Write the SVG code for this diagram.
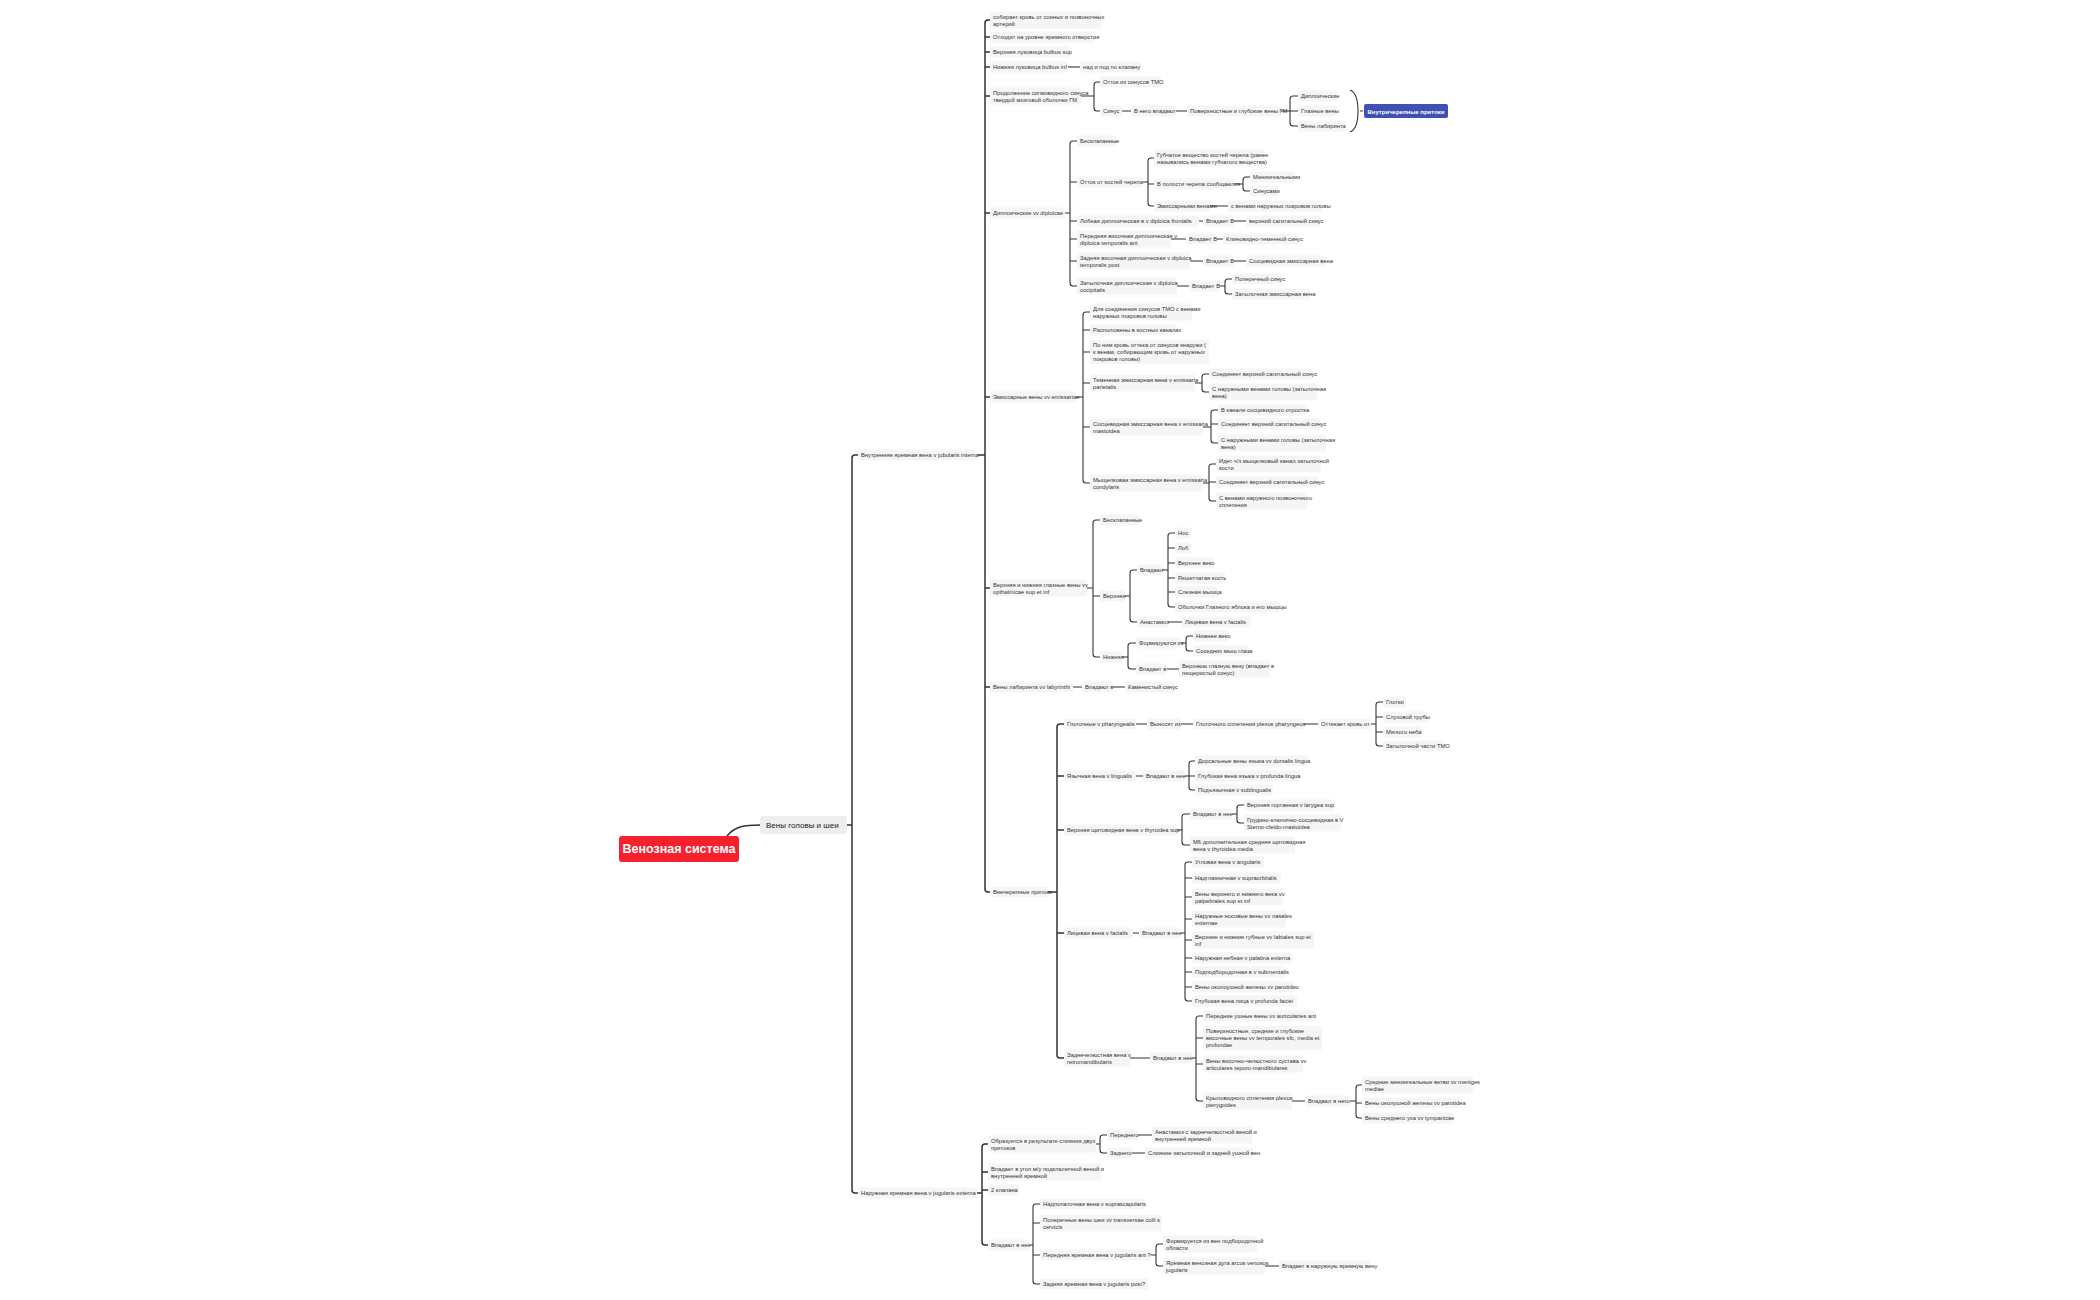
<svg xmlns="http://www.w3.org/2000/svg" width="2100" height="1300" viewBox="0 0 2100 1300">
<style>
.n rect{fill:#f5f5f5}
.n text{font-family:"Liberation Sans",Arial,sans-serif;font-size:5.8px;fill:#333}
#conn path{fill:none;stroke:#333;stroke-width:1.1}
#conn .m{stroke-width:1.5}
</style>
<rect width="2100" height="1300" fill="#fff"/>
<g id="conn">
<path class="m" d="M 727 836 C 735 826 745 825 760 825"/>
<path class="m" d="M 845 825 H 852 M 858 455 H 855 Q 852 455 852 458 V 1190 Q 852 1193 855 1193 H 858"/>
<path class="m" d="M 978 455 H 985 M 990 20 H 988 Q 985 20 985 23 V 889 Q 985 892 988 892 H 990 M 985 37 H 990 M 985 52 H 990 M 985 67 H 990 M 985 96 H 990 M 985 213 H 990 M 985 397 H 990 M 985 588 H 990 M 985 687 H 990"/>
<path d="M 1065 67 H 1080"/>
<path d="M 1078 96 H 1094 M 1100 82 H 1097 Q 1094 82 1094 85 V 108 Q 1094 111 1097 111 H 1100"/>
<path d="M 1118 111 H 1131 M 1174 111 H 1187 M 1278 111 H 1290 M 1298 96 H 1293 Q 1290 96 1290 99 V 123 Q 1290 126 1293 126 H 1298 M 1290 111 H 1298"/>
<path d="M 1350 90 Q 1358 93 1358 111 Q 1358 129 1350 132 M 1360 111 H 1363"/>
<path d="M 1062 213 H 1070 M 1077 141 H 1073 Q 1070 141 1070 144 V 283 Q 1070 286 1073 286 H 1077 M 1070 182 H 1077 M 1070 221 H 1077 M 1070 239 H 1077 M 1070 261 H 1077"/>
<path d="M 1140 182 H 1148 M 1154 158 H 1151 Q 1148 158 1148 161 V 203 Q 1148 206 1151 206 H 1154 M 1148 184 H 1154"/>
<path d="M 1232 184 H 1243 M 1250 177 H 1246 Q 1243 177 1243 180 V 188 Q 1243 191 1246 191 H 1250"/>
<path d="M 1208 206 H 1228 M 1196 221 H 1203 M 1232 221 H 1246 M 1168 239 H 1186 M 1215 239 H 1223 M 1188 261 H 1203 M 1232 261 H 1246"/>
<path d="M 1175 286 H 1189 M 1218 286 H 1225 M 1232 279 H 1228 Q 1225 279 1225 282 V 291 Q 1225 294 1228 294 H 1232"/>
<path d="M 1074 397 H 1083 M 1090 312 H 1086 Q 1083 312 1083 315 V 480 Q 1083 483 1086 483 H 1090 M 1083 330 H 1090 M 1083 352 H 1090 M 1083 383 H 1090 M 1083 427 H 1090"/>
<path d="M 1193 383 H 1202 M 1209 374 H 1205 Q 1202 374 1202 377 V 389 Q 1202 392 1205 392 H 1209"/>
<path d="M 1201 427 H 1211 M 1218 410 H 1214 Q 1211 410 1211 413 V 440 Q 1211 443 1214 443 H 1218 M 1211 424 H 1218"/>
<path d="M 1201 483 H 1209 M 1216 464 H 1212 Q 1209 464 1209 467 V 498 Q 1209 501 1212 501 H 1216 M 1209 482 H 1216"/>
<path d="M 1085 588 H 1093 M 1100 520 H 1096 Q 1093 520 1093 523 V 654 Q 1093 657 1096 657 H 1100 M 1093 596 H 1100"/>
<path d="M 1123 596 H 1130 M 1137 570 H 1133 Q 1130 570 1130 573 V 619 Q 1130 622 1133 622 H 1137"/>
<path d="M 1160 570 H 1168 M 1175 533 H 1171 Q 1168 533 1168 536 V 604 Q 1168 607 1171 607 H 1175 M 1168 548 H 1175 M 1168 563 H 1175 M 1168 578 H 1175 M 1168 592 H 1175"/>
<path d="M 1166 622 H 1182 M 1120 657 H 1128 M 1136 643 H 1131 Q 1128 643 1128 646 V 666 Q 1128 669 1131 669 H 1136"/>
<path d="M 1179 643 H 1186 M 1193 636 H 1189 Q 1186 636 1186 639 V 648 Q 1186 651 1189 651 H 1193 M 1165 669 H 1179"/>
<path d="M 1071 687 H 1082 M 1111 687 H 1125"/>
<path class="m" d="M 1046 892 H 1057 M 1064 724 H 1060 Q 1057 724 1057 727 V 1055 Q 1057 1058 1060 1058 H 1064 M 1057 776 H 1064 M 1057 830 H 1064 M 1057 933 H 1064"/>
<path d="M 1134 724 H 1147 M 1179 724 H 1193 M 1302 724 H 1318 M 1369 724 H 1376 M 1383 702 H 1379 Q 1376 702 1376 705 V 743 Q 1376 746 1379 746 H 1383 M 1376 717 H 1383 M 1376 732 H 1383"/>
<path d="M 1134 776 H 1143 M 1183 776 H 1189 M 1195 761 H 1192 Q 1189 761 1189 764 V 787 Q 1189 790 1192 790 H 1195 M 1189 776 H 1195"/>
<path d="M 1175 830 H 1182 M 1190 814 H 1185 Q 1182 814 1182 817 V 842 Q 1182 845 1185 845 H 1190 M 1230 814 H 1237 M 1244 805 H 1240 Q 1237 805 1237 808 V 820 Q 1237 823 1240 823 H 1244"/>
<path d="M 1131 933 H 1139 M 1179 933 H 1185 M 1192 862 H 1188 Q 1185 862 1185 865 V 998 Q 1185 1001 1188 1001 H 1192 M 1185 878 H 1192 M 1185 897 H 1192 M 1185 919 H 1192 M 1185 940 H 1192 M 1185 958 H 1192 M 1185 972 H 1192 M 1185 987 H 1192"/>
<path d="M 1128 1058 H 1150 M 1190 1058 H 1196 M 1203 1016 H 1199 Q 1196 1016 1196 1019 V 1098 Q 1196 1101 1199 1101 H 1203 M 1196 1038 H 1203 M 1196 1064 H 1203"/>
<path d="M 1290 1101 H 1305 M 1348 1101 H 1356 M 1362 1085 H 1359 Q 1356 1085 1356 1088 V 1115 Q 1356 1118 1359 1118 H 1362 M 1356 1103 H 1362"/>
<path class="m" d="M 975 1193 H 982 M 988 1144 H 985 Q 982 1144 982 1147 V 1242 Q 982 1245 985 1245 H 988 M 982 1172 H 988 M 982 1190 H 988"/>
<path d="M 1094 1144 H 1100 M 1107 1135 H 1103 Q 1100 1135 1100 1138 V 1150 Q 1100 1153 1103 1153 H 1107 M 1136 1135 H 1152 M 1130 1153 H 1145"/>
<path d="M 1026 1245 H 1033 M 1040 1204 H 1036 Q 1033 1204 1033 1207 V 1281 Q 1033 1284 1036 1284 H 1040 M 1033 1223 H 1040 M 1033 1255 H 1040"/>
<path d="M 1149 1255 H 1156 M 1163 1244 H 1159 Q 1156 1244 1156 1247 V 1263 Q 1156 1266 1159 1266 H 1163 M 1263 1266 H 1279"/>
</g>

<g id="root"><rect x="619" y="836" width="120" height="26" rx="3" fill="#f5222d"/><text x="679" y="853" text-anchor="middle" font-family="Liberation Sans,Arial,sans-serif" font-size="12.5" font-weight="bold" fill="#fff">Венозная система</text></g>
<g id="head" class="n"><rect x="760" y="816" width="87" height="18" rx="3" style="fill:#eeeeee"/><text x="766" y="828" style="font-size:8px;fill:#222">Вены головы и шеи</text></g>
<g id="ic-tag"><rect x="1364" y="104" width="84" height="14" rx="2" fill="#3f51b5"/><text x="1406" y="113.5" text-anchor="middle" font-family="Liberation Sans,Arial,sans-serif" font-size="6px" font-weight="bold" fill="#fff">Внутричерепные притоки</text></g>

<g id="vji" class="n"><rect x="858" y="449.5" width="119" height="11" rx="2"/><text x="861" y="457">Внутренняя яремная вена v jubularis interna</text></g>
<g id="a1" class="n"><rect x="990" y="11.5" width="111" height="17" rx="2"/><text x="993" y="18.5">собирает кровь от сонных и позвоночных</text><text x="993" y="25.5">артерий</text></g>
<g id="a2" class="n"><rect x="990" y="31.5" width="105" height="11" rx="2"/><text x="993" y="39">Отходит на уровне яремного отверстия</text></g>
<g id="a3" class="n"><rect x="990" y="46.5" width="80" height="11" rx="2"/><text x="993" y="54">Верхняя луковица bulbus sup</text></g>
<g id="a4" class="n"><rect x="990" y="61.5" width="78" height="11" rx="2"/><text x="993" y="69">Нижняя луковица bulbus inf</text></g>
<g id="a4a" class="n"><rect x="1080" y="61.5" width="61" height="11" rx="2"/><text x="1083" y="69">над и под по клапану</text></g>
<g id="a5" class="n"><rect x="990" y="87.5" width="91" height="17" rx="2"/><text x="993" y="94.5">Продолжение сигмовидного синуса</text><text x="993" y="101.5">твердой мозговой оболочки ГМ</text></g>
<g id="a5a" class="n"><rect x="1100" y="76.5" width="61" height="11" rx="2"/><text x="1103" y="84">Отток из синусов ТМО</text></g>
<g id="a5b" class="n"><rect x="1100" y="105.5" width="22" height="11" rx="2"/><text x="1103" y="113">Синус</text></g>
<g id="a5c" class="n"><rect x="1131" y="105.5" width="45" height="11" rx="2"/><text x="1134" y="113">В него впадают</text></g>
<g id="a5d" class="n"><rect x="1187" y="105.5" width="94" height="11" rx="2"/><text x="1190" y="113">Поверхностные и глубокие вены ГМ</text></g>
<g id="d1" class="n"><rect x="1298" y="90.5" width="39" height="11" rx="2"/><text x="1301" y="98">Диплоические</text></g>
<g id="d2" class="n"><rect x="1298" y="105.5" width="39" height="11" rx="2"/><text x="1301" y="113">Глазные вены</text></g>
<g id="d3" class="n"><rect x="1298" y="120.5" width="47" height="11" rx="2"/><text x="1301" y="128">Вены лабиринта</text></g>

<g id="a6" class="n"><rect x="990" y="207.5" width="75" height="11" rx="2"/><text x="993" y="215">Диплоические vv diploicae</text></g>
<g id="b1" class="n"><rect x="1077" y="135.5" width="39" height="11" rx="2"/><text x="1080" y="143">Бесклапанные</text></g>
<g id="b2" class="n"><rect x="1077" y="176.5" width="66" height="11" rx="2"/><text x="1080" y="184">Отток от костей черепа</text></g>
<g id="c1" class="n"><rect x="1154" y="149.5" width="111" height="17" rx="2"/><text x="1157" y="156.5">Губчатое вещество костей черепа (ранее</text><text x="1157" y="163.5">назывались венами губчатого вещества)</text></g>
<g id="c2" class="n"><rect x="1154" y="178.5" width="80" height="11" rx="2"/><text x="1157" y="186">В полости черепа сообщаются</text></g>
<g id="c2a" class="n"><rect x="1250" y="171.5" width="45" height="11" rx="2"/><text x="1253" y="179">Менингеальными</text></g>
<g id="c2b" class="n"><rect x="1250" y="185.5" width="28" height="11" rx="2"/><text x="1253" y="193">Синусами</text></g>
<g id="c3" class="n"><rect x="1154" y="200.5" width="56" height="11" rx="2"/><text x="1157" y="208">Эмиссарными венами</text></g>
<g id="c3a" class="n"><rect x="1228" y="200.5" width="94" height="11" rx="2"/><text x="1231" y="208">с венами наружных покровов головы</text></g>
<g id="b3" class="n"><rect x="1077" y="215.5" width="122" height="11" rx="2"/><text x="1080" y="223">Лобная диплоическая в v diploica frontalis</text></g>
<g id="b3a" class="n"><rect x="1203" y="215.5" width="31" height="11" rx="2"/><text x="1206" y="223">Впадает В</text></g>
<g id="b3b" class="n"><rect x="1246" y="215.5" width="75" height="11" rx="2"/><text x="1249" y="223">верхний сагитальный синус</text></g>
<g id="b4" class="n"><rect x="1077" y="230.5" width="94" height="17" rx="2"/><text x="1080" y="237.5">Передняя височная диплоическая v</text><text x="1080" y="244.5">diploica temporalis ant</text></g>
<g id="b4a" class="n"><rect x="1186" y="233.5" width="31" height="11" rx="2"/><text x="1189" y="241">Впадает В</text></g>
<g id="b4b" class="n"><rect x="1223" y="233.5" width="75" height="11" rx="2"/><text x="1226" y="241">Клиновидно-теменной синус</text></g>
<g id="b5" class="n"><rect x="1077" y="252.5" width="113" height="17" rx="2"/><text x="1080" y="259.5">Задняя височная диплоическая v diploica</text><text x="1080" y="266.5">temporalis post</text></g>
<g id="b5a" class="n"><rect x="1203" y="255.5" width="31" height="11" rx="2"/><text x="1206" y="263">Впадает В</text></g>
<g id="b5b" class="n"><rect x="1246" y="255.5" width="80" height="11" rx="2"/><text x="1249" y="263">Сосцевидная эмиссарная вена</text></g>
<g id="b6" class="n"><rect x="1077" y="277.5" width="100" height="17" rx="2"/><text x="1080" y="284.5">Затылочная диплоическая v diploica</text><text x="1080" y="291.5">occipitalis</text></g>
<g id="b6a" class="n"><rect x="1189" y="280.5" width="31" height="11" rx="2"/><text x="1192" y="288">Впадает В</text></g>
<g id="b6b" class="n"><rect x="1232" y="273.5" width="50" height="11" rx="2"/><text x="1235" y="281">Поперечный синус</text></g>
<g id="b6c" class="n"><rect x="1232" y="288.5" width="78" height="11" rx="2"/><text x="1235" y="296">Затылочная эмиссарная вена</text></g>

<g id="a7" class="n"><rect x="990" y="391.5" width="86" height="11" rx="2"/><text x="993" y="399">Эмиссарные вены vv emissariae</text></g>
<g id="e1" class="n"><rect x="1090" y="303.5" width="102" height="17" rx="2"/><text x="1093" y="310.5">Для соединения синусов ТМО с венами</text><text x="1093" y="317.5">наружных покровов головы</text></g>
<g id="e2" class="n"><rect x="1090" y="324.5" width="86" height="11" rx="2"/><text x="1093" y="332">Расположены в костных каналах</text></g>
<g id="e3" class="n"><rect x="1090" y="340" width="119" height="24" rx="2"/><text x="1093" y="347">По ним кровь оттека от синусов кнаружи (</text><text x="1093" y="354">к венам, собирающим кровь от наружных</text><text x="1093" y="361">покровов головы)</text></g>
<g id="e4" class="n"><rect x="1090" y="374.5" width="105" height="17" rx="2"/><text x="1093" y="381.5">Теменная эмиссарная вена v emissaria</text><text x="1093" y="388.5">parietalis</text></g>
<g id="e4a" class="n"><rect x="1209" y="368.5" width="102" height="11" rx="2"/><text x="1212" y="376">Соединяет верхний сагитальный синус</text></g>
<g id="e4b" class="n"><rect x="1209" y="383.5" width="108" height="17" rx="2"/><text x="1212" y="390.5">С наружными венами головы (затылочная</text><text x="1212" y="397.5">вена)</text></g>
<g id="e5" class="n"><rect x="1090" y="418.5" width="113" height="17" rx="2"/><text x="1093" y="425.5">Сосцевидная эмиссарная вена v emissaria</text><text x="1093" y="432.5">mastoidea</text></g>
<g id="e5a" class="n"><rect x="1218" y="404.5" width="89" height="11" rx="2"/><text x="1221" y="412">В канале сосцевидного отростка</text></g>
<g id="e5b" class="n"><rect x="1218" y="418.5" width="102" height="11" rx="2"/><text x="1221" y="426">Соединяет верхний сагитальный синус</text></g>
<g id="e5c" class="n"><rect x="1218" y="434.5" width="108" height="17" rx="2"/><text x="1221" y="441.5">С наружными венами головы (затылочная</text><text x="1221" y="448.5">вена)</text></g>
<g id="e6" class="n"><rect x="1090" y="474.5" width="113" height="17" rx="2"/><text x="1093" y="481.5">Мыщелковая эмиссарная вена v emissaria</text><text x="1093" y="488.5">condylaris</text></g>
<g id="e6a" class="n"><rect x="1216" y="455.5" width="105" height="17" rx="2"/><text x="1219" y="462.5">Идет ч/з мыщелковый канал затылочной</text><text x="1219" y="469.5">кости</text></g>
<g id="e6b" class="n"><rect x="1216" y="476.5" width="102" height="11" rx="2"/><text x="1219" y="484">Соединяет верхний сагитальный синус</text></g>
<g id="e6c" class="n"><rect x="1216" y="492.5" width="91" height="17" rx="2"/><text x="1219" y="499.5">С венами наружного позвоночного</text><text x="1219" y="506.5">сплетения</text></g>

<g id="a8" class="n"><rect x="990" y="579.5" width="97" height="17" rx="2"/><text x="993" y="586.5">Верхняя и нижняя глазные вены vv</text><text x="993" y="593.5">opthalmicae sup et inf</text></g>
<g id="o1" class="n"><rect x="1100" y="514.5" width="39" height="11" rx="2"/><text x="1103" y="522">Бесклапанные</text></g>
<g id="o2" class="n"><rect x="1100" y="590.5" width="25" height="11" rx="2"/><text x="1103" y="598">Верхняя</text></g>
<g id="o2a" class="n"><rect x="1137" y="564.5" width="25" height="11" rx="2"/><text x="1140" y="572">Впадают</text></g>
<g id="p1" class="n"><rect x="1175" y="527.5" width="16" height="11" rx="2"/><text x="1178" y="535">Нос</text></g>
<g id="p2" class="n"><rect x="1175" y="542.5" width="16" height="11" rx="2"/><text x="1178" y="550">Лоб</text></g>
<g id="p3" class="n"><rect x="1175" y="557.5" width="39" height="11" rx="2"/><text x="1178" y="565">Верхнее веко</text></g>
<g id="p4" class="n"><rect x="1175" y="572.5" width="50" height="11" rx="2"/><text x="1178" y="580">Решетчатая кость</text></g>
<g id="p5" class="n"><rect x="1175" y="586.5" width="42" height="11" rx="2"/><text x="1178" y="594">Слезная мышца</text></g>
<g id="p6" class="n"><rect x="1175" y="601.5" width="105" height="11" rx="2"/><text x="1178" y="609">Оболочки Глазного яблока и его мышцы</text></g>
<g id="o2b" class="n"><rect x="1137" y="616.5" width="31" height="11" rx="2"/><text x="1140" y="624">Анастамоз</text></g>
<g id="o2c" class="n"><rect x="1182" y="616.5" width="69" height="11" rx="2"/><text x="1185" y="624">Лицевая вена v facialis</text></g>
<g id="o3" class="n"><rect x="1100" y="651.5" width="22" height="11" rx="2"/><text x="1103" y="659">Нижняя</text></g>
<g id="o3a" class="n"><rect x="1136" y="637.5" width="45" height="11" rx="2"/><text x="1139" y="645">Формируются из</text></g>
<g id="o3a1" class="n"><rect x="1193" y="630.5" width="36" height="11" rx="2"/><text x="1196" y="638">Нижнее веко</text></g>
<g id="o3a2" class="n"><rect x="1193" y="645.5" width="56" height="11" rx="2"/><text x="1196" y="653">Соседних мыш глаза</text></g>
<g id="o3b" class="n"><rect x="1136" y="663.5" width="31" height="11" rx="2"/><text x="1139" y="671">Впадает в</text></g>
<g id="o3b1" class="n"><rect x="1179" y="660.5" width="91" height="17" rx="2"/><text x="1182" y="667.5">Верхнюю глазную вену (впадает в</text><text x="1182" y="674.5">пещеристый синус)</text></g>

<g id="a9" class="n"><rect x="990" y="681.5" width="83" height="11" rx="2"/><text x="993" y="689">Вены лабиринта vv labyrinthi</text></g>
<g id="a9a" class="n"><rect x="1082" y="681.5" width="31" height="11" rx="2"/><text x="1085" y="689">Впадают в</text></g>
<g id="a9b" class="n"><rect x="1125" y="681.5" width="50" height="11" rx="2"/><text x="1128" y="689">Каменистый синус</text></g>

<g id="a10" class="n"><rect x="990" y="886.5" width="58" height="11" rx="2"/><text x="993" y="894">Внечерепные притоки</text></g>
<g id="x1" class="n"><rect x="1064" y="718.5" width="72" height="11" rx="2"/><text x="1067" y="726">Глоточные v pharyngealis</text></g>
<g id="x1a" class="n"><rect x="1147" y="718.5" width="34" height="11" rx="2"/><text x="1150" y="726">Выносят из</text></g>
<g id="x1b" class="n"><rect x="1193" y="718.5" width="111" height="11" rx="2"/><text x="1196" y="726">Глоточного сплетения plexus pharyngeus</text></g>
<g id="x1c" class="n"><rect x="1318" y="718.5" width="53" height="11" rx="2"/><text x="1321" y="726">Оттекает кровь от</text></g>
<g id="x1d" class="n"><rect x="1383" y="696.5" width="23" height="11" rx="2"/><text x="1386" y="704">Глотки</text></g>
<g id="x1e" class="n"><rect x="1383" y="711.5" width="45" height="11" rx="2"/><text x="1386" y="719">Слуховой трубы</text></g>
<g id="x1f" class="n"><rect x="1383" y="726.5" width="39" height="11" rx="2"/><text x="1386" y="734">Мягкого неба</text></g>
<g id="x1g" class="n"><rect x="1383" y="740.5" width="61" height="11" rx="2"/><text x="1386" y="748">Затылочной части ТМО</text></g>
<g id="x2" class="n"><rect x="1064" y="770.5" width="72" height="11" rx="2"/><text x="1067" y="778">Язычная вена v lingualis</text></g>
<g id="x2a" class="n"><rect x="1143" y="770.5" width="42" height="11" rx="2"/><text x="1146" y="778">Впадают в нее</text></g>
<g id="x2b" class="n"><rect x="1195" y="755.5" width="113" height="11" rx="2"/><text x="1198" y="763">Дорсальные вены языка vv dorsalis lingua</text></g>
<g id="x2c" class="n"><rect x="1195" y="770.5" width="105" height="11" rx="2"/><text x="1198" y="778">Глубокая вена языка v profunda lingua</text></g>
<g id="x2d" class="n"><rect x="1195" y="784.5" width="78" height="11" rx="2"/><text x="1198" y="792">Подъязычная v sublingualis</text></g>
<g id="x3" class="n"><rect x="1064" y="824.5" width="113" height="11" rx="2"/><text x="1067" y="832">Верхняя щитовидная вена v thyroidea sup</text></g>
<g id="x3a" class="n"><rect x="1190" y="808.5" width="42" height="11" rx="2"/><text x="1193" y="816">Впадают в нее</text></g>
<g id="x3a1" class="n"><rect x="1244" y="799.5" width="91" height="11" rx="2"/><text x="1247" y="807">Верхняя гортанная v larygea sup</text></g>
<g id="x3a2" class="n"><rect x="1244" y="814.5" width="97" height="17" rx="2"/><text x="1247" y="821.5">Грудино-ключично-сосцевидная в V</text><text x="1247" y="828.5">Sterno-cleido-mastoidea</text></g>
<g id="x3b" class="n"><rect x="1190" y="836.5" width="105" height="17" rx="2"/><text x="1193" y="843.5">М6 дополнительная средняя щитовидная</text><text x="1193" y="850.5">вена v thyroidea media</text></g>
<g id="x4" class="n"><rect x="1064" y="927.5" width="69" height="11" rx="2"/><text x="1067" y="935">Лицевая вена v facialis</text></g>
<g id="x4a" class="n"><rect x="1139" y="927.5" width="42" height="11" rx="2"/><text x="1142" y="935">Впадают в нее</text></g>
<g id="f1" class="n"><rect x="1192" y="856.5" width="72" height="11" rx="2"/><text x="1195" y="864">Угловая вена v angularis</text></g>
<g id="f2" class="n"><rect x="1192" y="872.5" width="89" height="11" rx="2"/><text x="1195" y="880">Надглазничная v supraorbitalis</text></g>
<g id="f3" class="n"><rect x="1192" y="888.5" width="91" height="17" rx="2"/><text x="1195" y="895.5">Вены верхнего и нижнего века vv</text><text x="1195" y="902.5">palpebrales sup et inf</text></g>
<g id="f4" class="n"><rect x="1192" y="910.5" width="94" height="17" rx="2"/><text x="1195" y="917.5">Наружные носовые вены vv nasales</text><text x="1195" y="924.5">externae</text></g>
<g id="f5" class="n"><rect x="1192" y="931.5" width="122" height="17" rx="2"/><text x="1195" y="938.5">Верхние и нижние губные vv labiales sup et</text><text x="1195" y="945.5">inf</text></g>
<g id="f6" class="n"><rect x="1192" y="952.5" width="100" height="11" rx="2"/><text x="1195" y="960">Наружная небная v palatina externa</text></g>
<g id="f7" class="n"><rect x="1192" y="966.5" width="94" height="11" rx="2"/><text x="1195" y="974">Подподбородочная в v submentalis</text></g>
<g id="f8" class="n"><rect x="1192" y="981.5" width="102" height="11" rx="2"/><text x="1195" y="989">Вены околоушной железы vv parotideu</text></g>
<g id="f9" class="n"><rect x="1192" y="995.5" width="105" height="11" rx="2"/><text x="1195" y="1003">Глубокая вена лица v profunda faciei</text></g>
<g id="x5" class="n"><rect x="1064" y="1049.5" width="66" height="17" rx="2"/><text x="1067" y="1056.5">Заднечелюстная вена v</text><text x="1067" y="1063.5">retromandibularis</text></g>
<g id="x5a" class="n"><rect x="1150" y="1052.5" width="42" height="11" rx="2"/><text x="1153" y="1060">Впадают в нее</text></g>
<g id="r1" class="n"><rect x="1203" y="1010.5" width="113" height="11" rx="2"/><text x="1206" y="1018">Передние ушные вены vv auricularies ant</text></g>
<g id="r2" class="n"><rect x="1203" y="1026" width="119" height="24" rx="2"/><text x="1206" y="1033">Поверхностные, средние и глубокие</text><text x="1206" y="1040">височные вены vv temporales sfc, media et</text><text x="1206" y="1047">profundae</text></g>
<g id="r3" class="n"><rect x="1203" y="1055.5" width="100" height="17" rx="2"/><text x="1206" y="1062.5">Вены височно-челюстного сустава vv</text><text x="1206" y="1069.5">articulares teporo-mandibulares</text></g>
<g id="r4" class="n"><rect x="1203" y="1092.5" width="89" height="17" rx="2"/><text x="1206" y="1099.5">Крыловидного сплетения plexus</text><text x="1206" y="1106.5">pterygoides</text></g>
<g id="r4a" class="n"><rect x="1305" y="1095.5" width="45" height="11" rx="2"/><text x="1308" y="1103">Впадают в него</text></g>
<g id="r4b" class="n"><rect x="1362" y="1076.5" width="111" height="17" rx="2"/><text x="1365" y="1083.5">Средние менингеальные ветви vv meniges</text><text x="1365" y="1090.5">mediae</text></g>
<g id="r4c" class="n"><rect x="1362" y="1097.5" width="100" height="11" rx="2"/><text x="1365" y="1105">Вены околушной железы vv parotidea</text></g>
<g id="r4d" class="n"><rect x="1362" y="1112.5" width="91" height="11" rx="2"/><text x="1365" y="1120">Вены среднего уха vv tympanicae</text></g>

<g id="vje" class="n"><rect x="858" y="1187.5" width="119" height="11" rx="2"/><text x="861" y="1195">Наружная яремная вена v jugularis externa</text></g>
<g id="n1" class="n"><rect x="988" y="1135.5" width="108" height="17" rx="2"/><text x="991" y="1142.5">Образуется в результате слияния двух</text><text x="991" y="1149.5">притоков</text></g>
<g id="n1a" class="n"><rect x="1107" y="1129.5" width="31" height="11" rx="2"/><text x="1110" y="1137">Переднего</text></g>
<g id="n1a1" class="n"><rect x="1152" y="1126.5" width="100" height="17" rx="2"/><text x="1155" y="1133.5">Анастамоз с заднечелюстной веной и</text><text x="1155" y="1140.5">внутренней яремной</text></g>
<g id="n1b" class="n"><rect x="1107" y="1147.5" width="25" height="11" rx="2"/><text x="1110" y="1155">Заднего</text></g>
<g id="n1b1" class="n"><rect x="1145" y="1147.5" width="108" height="11" rx="2"/><text x="1148" y="1155">Слияние затылочной и задней ушной вен</text></g>
<g id="n2" class="n"><rect x="988" y="1163.5" width="113" height="17" rx="2"/><text x="991" y="1170.5">Впадает в угол м/у подключичной веной и</text><text x="991" y="1177.5">внутренней яремной</text></g>
<g id="n3" class="n"><rect x="988" y="1184.5" width="31" height="11" rx="2"/><text x="991" y="1192">2 клапана</text></g>
<g id="n4" class="n"><rect x="988" y="1239.5" width="42" height="11" rx="2"/><text x="991" y="1247">Впадают в нее</text></g>
<g id="n4a" class="n"><rect x="1040" y="1198.5" width="105" height="11" rx="2"/><text x="1043" y="1206">Надлопаточная вена v suprascapularis</text></g>
<g id="n4b" class="n"><rect x="1040" y="1214.5" width="122" height="17" rx="2"/><text x="1043" y="1221.5">Поперечные вены шеи vv transversae colli s</text><text x="1043" y="1228.5">cervicis</text></g>
<g id="n4c" class="n"><rect x="1040" y="1249.5" width="111" height="11" rx="2"/><text x="1043" y="1257">Передняя яремная вена v jugularis ant ?</text></g>
<g id="n4c1" class="n"><rect x="1163" y="1235.5" width="94" height="17" rx="2"/><text x="1166" y="1242.5">Формируется из вен подбородочной</text><text x="1166" y="1249.5">области</text></g>
<g id="n4c2" class="n"><rect x="1163" y="1257.5" width="102" height="17" rx="2"/><text x="1166" y="1264.5">Яремная венозная дуга arcus venosus</text><text x="1166" y="1271.5">jugularis</text></g>
<g id="n4c2a" class="n"><rect x="1279" y="1260.5" width="91" height="11" rx="2"/><text x="1282" y="1268">Впадает в наружную яремную вену</text></g>
<g id="n4d" class="n"><rect x="1040" y="1278.5" width="108" height="11" rx="2"/><text x="1043" y="1286">Задняя яремная вена v jugularis post?</text></g>
</svg>
